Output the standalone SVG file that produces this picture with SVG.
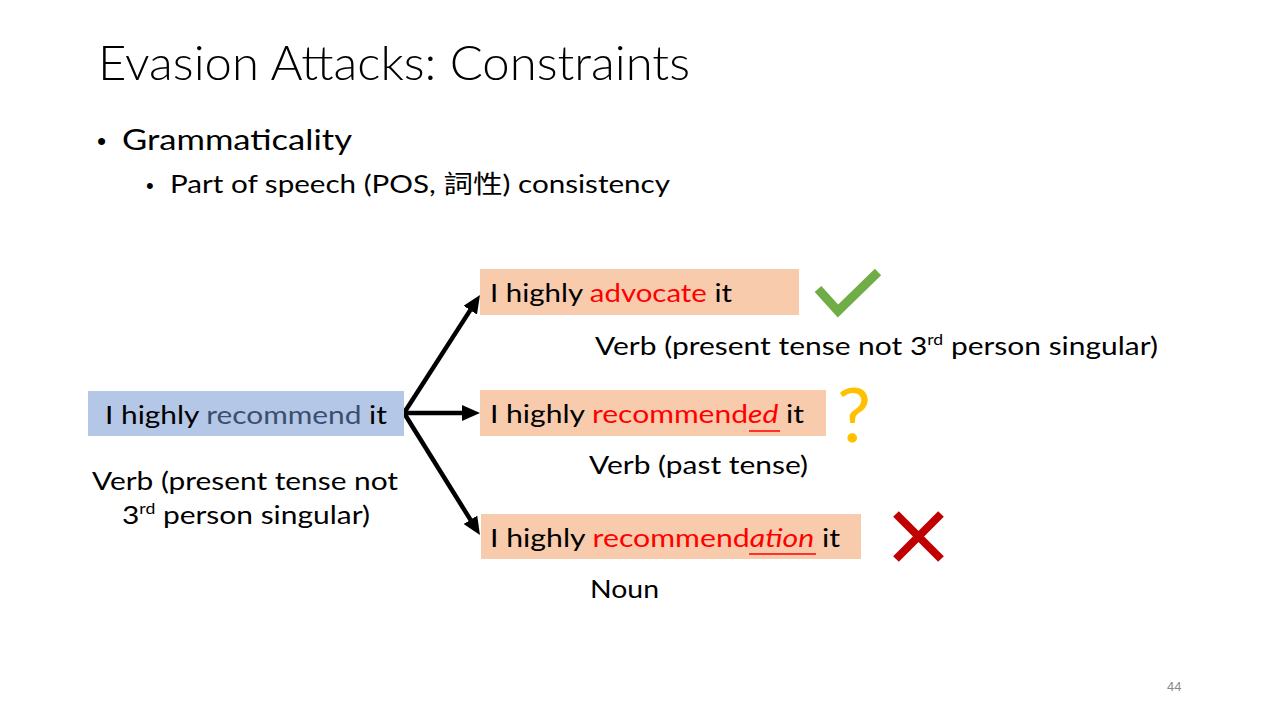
<svg xmlns="http://www.w3.org/2000/svg" width="1280" height="720" viewBox="0 0 1280 720">
  <style>
    text { font-family: Lato, "Noto Sans CJK TC", sans-serif; fill: #000; }
    .title { font-size: 48px; font-weight: 300; }
    .l1 { font-size: 29px; }
    .l2 { font-size: 25px; }
    .body { font-size: 25.5px; }
    .sup { font-size: 15px; }
    .red { fill: #ff0000; }
    .slate { fill: #3b4e72; }
    .src { fill: #b4c7e7; }
    .cand { fill: #f8cbad; }
    .edge { stroke: #000; stroke-width: 4.5; fill: none; marker-end: url(#head); }
    .uline { stroke: #ff0000; stroke-width: 1.5; }
  </style>
  <defs>
    <marker id="head" markerUnits="userSpaceOnUse" markerWidth="18" markerHeight="16" refX="9" refY="8" orient="auto">
      <path d="M0,0 L18,8 L0,16 z" fill="#000"/>
    </marker>
  </defs>

  <rect width="1280" height="720" fill="#fff"/>

  <!-- heading and bullets -->
  <text class="title" x="98" y="80" textLength="592" lengthAdjust="spacingAndGlyphs">Evasion Attacks: Constraints</text>
  <text x="97" y="150" style="font-family:'Liberation Sans',sans-serif;font-size:26px">•</text>
  <text class="l1" x="122" y="150" textLength="230" lengthAdjust="spacingAndGlyphs">Grammaticality</text>
  <text x="146" y="193" style="font-family:'Liberation Sans',sans-serif;font-size:22px">•</text>
  <text class="l2" x="170" y="193" textLength="500" lengthAdjust="spacingAndGlyphs">Part of speech (POS, 詞性) consistency</text>

  <!-- connectors -->
  <g id="connectors">
    <path class="edge" d="M404,413 L475.1,302.6"/>
    <path class="edge" d="M404,413 L471,413"/>
    <path class="edge" d="M404,413 L475.2,527.4"/>
  </g>

  <!-- source sentence -->
  <g id="source">
    <rect class="src" x="88" y="391" width="316" height="45"/>
    <text class="body" x="105" y="424" textLength="282" lengthAdjust="spacingAndGlyphs">I highly <tspan class="slate">recommend</tspan> it</text>
    <text class="body" x="92" y="490" textLength="306" lengthAdjust="spacingAndGlyphs">Verb (present tense not</text>
    <text class="body" x="122" y="524" textLength="248" lengthAdjust="spacingAndGlyphs">3<tspan class="sup" dy="-10">rd</tspan><tspan dy="10"> person singular)</tspan></text>
  </g>

  <!-- candidate: advocate -->
  <g id="cand-advocate">
    <rect class="cand" x="480" y="269" width="319" height="46"/>
    <text class="body" x="490" y="302" textLength="242" lengthAdjust="spacingAndGlyphs">I highly <tspan class="red">advocate</tspan> it</text>
    <text class="body" x="595" y="355" textLength="563" lengthAdjust="spacingAndGlyphs">Verb (present tense not 3<tspan class="sup" dy="-10">rd</tspan><tspan dy="10"> person singular)</tspan></text>
    <polyline points="818,289 838,311 878,272" fill="none" stroke="#70ad47" stroke-width="9"/>
  </g>

  <!-- candidate: recommended -->
  <g id="cand-recommended">
    <rect class="cand" x="480" y="390" width="346" height="46"/>
    <text class="body" x="490" y="423" textLength="314" lengthAdjust="spacingAndGlyphs">I highly <tspan class="red">recommend</tspan><tspan class="red" font-style="italic">ed</tspan> it</text>
    <line class="uline" x1="749" y1="431" x2="780" y2="431"/>
    <text class="body" x="589" y="474" textLength="219" lengthAdjust="spacingAndGlyphs">Verb (past tense)</text>
    <text x="837" y="442" textLength="34" lengthAdjust="spacingAndGlyphs" style="font-size:76px;font-weight:400;fill:#ffc000">?</text>
  </g>

  <!-- candidate: recommendation -->
  <g id="cand-recommendation">
    <rect class="cand" x="481" y="514" width="380" height="45"/>
    <text class="body" x="490" y="547" textLength="350" lengthAdjust="spacingAndGlyphs">I highly <tspan class="red">recommend</tspan><tspan class="red" font-style="italic">ation</tspan> it</text>
    <line class="uline" x1="749" y1="554" x2="816" y2="554"/>
    <text class="body" x="590" y="598" textLength="69" lengthAdjust="spacingAndGlyphs">Noun</text>
    <path d="M896,514 L941,559 M941,514 L896,559" stroke="#c00000" stroke-width="8" fill="none"/>
  </g>

  <text x="1167" y="691" style="font-family:'Liberation Sans',sans-serif;font-size:13px;fill:#898989">44</text>
</svg>
